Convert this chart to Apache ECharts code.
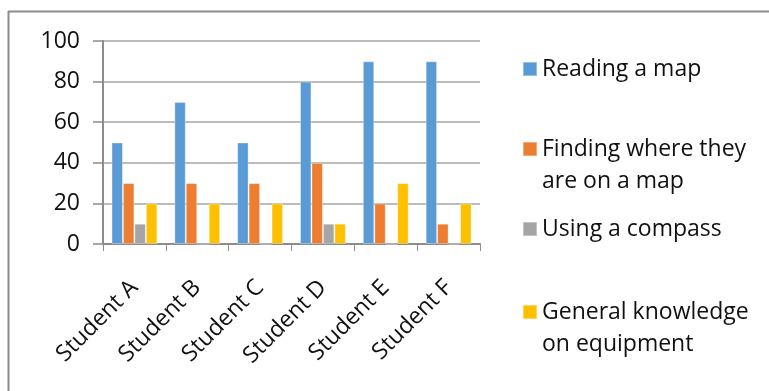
<!DOCTYPE html>
<html>
<head>
<meta charset="utf-8">
<script src="https://cdn.jsdelivr.net/npm/echarts@6/dist/echarts.min.js"></script>
<style>
  html, body { margin: 0; padding: 0; background: #fff; }
  #chart { width: 769px; height: 391px; }
</style>
</head>
<body>
<div id="chart"></div>
<script>
// Skill scores per student
const students = ['Student A', 'Student B', 'Student C', 'Student D', 'Student E', 'Student F'];
const readingMap = [50, 70, 50, 80, 90, 90];
const findingOnMap = [30, 30, 30, 40, 20, 10];
const usingCompass = [10, 0, 0, 10, 0, 0];
const generalKnowledge = [20, 20, 20, 10, 30, 20];
const yTicks = [0, 20, 40, 60, 80, 100];

const seriesNames = ['Reading a map', 'Finding where they\nare on a map', 'Using a compass', 'General knowledge\non equipment'];
const seriesData = [readingMap, findingOnMap, usingCompass, generalKnowledge];
const colors = ['#5B9BD5', '#ED7D31', '#A5A5A5', '#FFC000'];
// vertical centre of the first text line of each legend entry
const legendLineY = [69, 149, 229, 312];

const FONT = 'Open Sans';
const FS = 23;
const LH = 32;
const chart = echarts.init(document.getElementById('chart'), null, { renderer: 'canvas' });

// One legend block per series so each entry can sit at its own height.
// Two-line names get a blank leading line so the swatch lines up with the first text line.
const legends = seriesNames.map((name, i) => {
  const multi = name.indexOf('\n') >= 0;
  return {
    data: [name],
    left: 522,
    top: legendLineY[i] - (multi ? LH * 1.5 : LH / 2),
    padding: 0,
    orient: 'vertical',
    itemWidth: 14,
    itemHeight: 14,
    icon: 'rect',
    selectedMode: false,
    formatter: n => (n.indexOf('\n') >= 0 ? '\n' + n : n),
    textStyle: { fontFamily: FONT, fontSize: FS, color: '#111', lineHeight: LH }
  };
});

chart.setOption({
  animation: false,
  color: colors,
  graphic: [
    { type: 'line', shape: { x1: 8.5, y1: 11, x2: 8.5, y2: 391 }, style: { stroke: '#8c8c8c', lineWidth: 2 } },
    { type: 'line', shape: { x1: 8, y1: 11.5, x2: 769, y2: 11.5 }, style: { stroke: '#8c8c8c', lineWidth: 2 } }
  ],
  legend: legends,
  grid: { left: 103, top: 41, right: 289, bottom: 147, containLabel: false },
  xAxis: {
    type: 'category',
    data: students,
    axisLine: { lineStyle: { color: '#8c8c8c', width: 2 } },
    axisTick: { show: true, length: 7, lineStyle: { color: '#8c8c8c', width: 1 } },
    axisLabel: {
      rotate: 45,
      interval: 0,
      margin: 40,
      fontFamily: FONT,
      fontSize: FS,
      color: '#111'
    }
  },
  yAxis: {
    type: 'value',
    min: yTicks[0],
    max: yTicks[yTicks.length - 1],
    interval: 20,
    axisLine: { show: true, lineStyle: { color: '#8c8c8c', width: 2 } },
    axisTick: { show: true, length: 10, lineStyle: { color: '#8c8c8c', width: 1.5 } },
    splitLine: { lineStyle: { color: '#a6a6a6', width: 1.5 } },
    axisLabel: { fontFamily: FONT, fontSize: FS, color: '#111', margin: 23 }
  },
  series: seriesNames.map((name, i) => ({
    name: name,
    type: 'bar',
    data: seriesData[i],
    barGap: '0%',
    barCategoryGap: '27%',
    itemStyle: { color: colors[i], borderColor: 'rgba(255,255,255,0.35)', borderWidth: 1 }
  }))
});
</script>
</body>
</html>
